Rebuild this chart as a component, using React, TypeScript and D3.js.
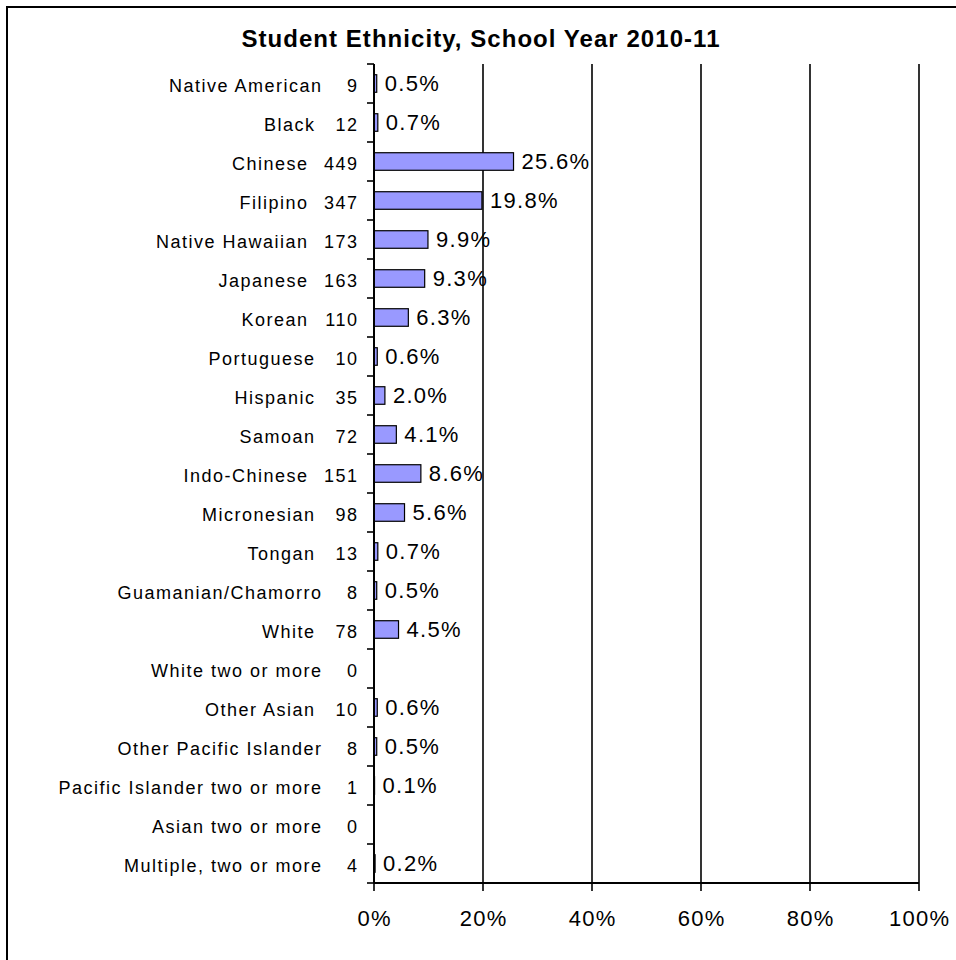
import React from "react";
import * as d3 from "d3";

const categories = [
  "Native American", "Black", "Chinese", "Filipino", "Native Hawaiian", "Japanese",
  "Korean", "Portuguese", "Hispanic", "Samoan", "Indo-Chinese", "Micronesian",
  "Tongan", "Guamanian/Chamorro", "White", "White two or more", "Other Asian",
  "Other Pacific Islander", "Pacific Islander two or more", "Asian two or more",
  "Multiple, two or more",
];
const counts = [9, 12, 449, 347, 173, 163, 110, 10, 35, 72, 151, 98, 13, 8, 78, 0, 10, 8, 1, 0, 4];
const percents = [0.5, 0.7, 25.6, 19.8, 9.9, 9.3, 6.3, 0.6, 2.0, 4.1, 8.6, 5.6, 0.7, 0.5, 4.5, 0, 0.6, 0.5, 0.1, 0, 0.2];
const xTicks = [0, 20, 40, 60, 80, 100];
const title = "Student Ethnicity, School Year 2010-11";

const W = 956;
const H = 960;
const FONT = "'Liberation Sans', Arial, sans-serif";

export default function App() {
  const x = d3.scaleLinear().domain([0, 100]).range([374, 919]);
  const y = d3.scaleBand<string>().domain(categories).range([64, 883]).padding(0);
  const bw = y.bandwidth();
  const barH = bw * 0.45;
  const [y0, y1] = y.range();
  const boundaries = d3.range(categories.length + 1).map((i) => y0 + i * bw);
  const catLS = 1.5;
  const valLS = 1.3;

  return (
    <svg width={W} height={H} style={{ position: "absolute", left: 0, top: 0, background: "#fff" }}>
      <rect x={0} y={0} width={W} height={H} fill="#fff" />
      <path d={`M7,${H} V7 H${W}`} fill="none" stroke="#000" strokeWidth={2} />
      <text x={481} y={47} textAnchor="middle" fontFamily={FONT} fontWeight="bold" fontSize={24} letterSpacing={1.05} fill="#000">
        {title}
      </text>
      {xTicks.filter((t) => t > 0).map((t) => (
        <line key={"g" + t} x1={x(t)} x2={x(t)} y1={y0} y2={y1} stroke="#000" strokeWidth={1.6} />
      ))}
      {categories.map((c, i) =>
        percents[i] > 0 ? (
          <rect
            key={"b" + c}
            x={x(0)}
            y={(y(c) as number) + (bw - barH) / 2}
            width={x(percents[i]) - x(0)}
            height={barH}
            fill="#9999FF"
            stroke="#000"
            strokeWidth={1.2}
          />
        ) : null
      )}
      <line x1={x(0)} x2={x(0)} y1={y0} y2={y1} stroke="#000" strokeWidth={2} />
      {boundaries.map((b, i) => (
        <line key={"yt" + i} x1={x(0) - 7} x2={x(0)} y1={b} y2={b} stroke="#000" strokeWidth={1.6} />
      ))}
      <line x1={x(0)} x2={x(100)} y1={y1} y2={y1} stroke="#000" strokeWidth={2} />
      {xTicks.map((t) => (
        <line key={"xt" + t} x1={x(t)} x2={x(t)} y1={y1} y2={y1 + 8} stroke="#000" strokeWidth={1.6} />
      ))}
      {xTicks.map((t) => (
        <text key={"xl" + t} x={x(t) + valLS / 2} y={926} textAnchor="middle" fontFamily={FONT} fontSize={22} letterSpacing={valLS} fill="#000">
          {t + "%"}
        </text>
      ))}
      {categories.map((c, i) => {
        const cy = (y(c) as number) + bw / 2;
        const digits = String(counts[i]).length;
        return (
          <g key={"l" + c} fontFamily={FONT} fontSize={18} letterSpacing={catLS} fill="#000">
            <text x={328 - 7 * digits + catLS} y={cy + 8} textAnchor="end">{c}</text>
            <text x={357 + catLS} y={cy + 8} textAnchor="end">{String(counts[i])}</text>
          </g>
        );
      })}
      {categories.map((c, i) =>
        percents[i] > 0 ? (
          <text
            key={"d" + c}
            x={x(percents[i]) + 8}
            y={(y(c) as number) + bw / 2 + 7.5}
            fontFamily={FONT}
            fontSize={22}
            letterSpacing={valLS}
            fill="#000"
          >
            {percents[i].toFixed(1) + "%"}
          </text>
        ) : null
      )}
    </svg>
  );
}
